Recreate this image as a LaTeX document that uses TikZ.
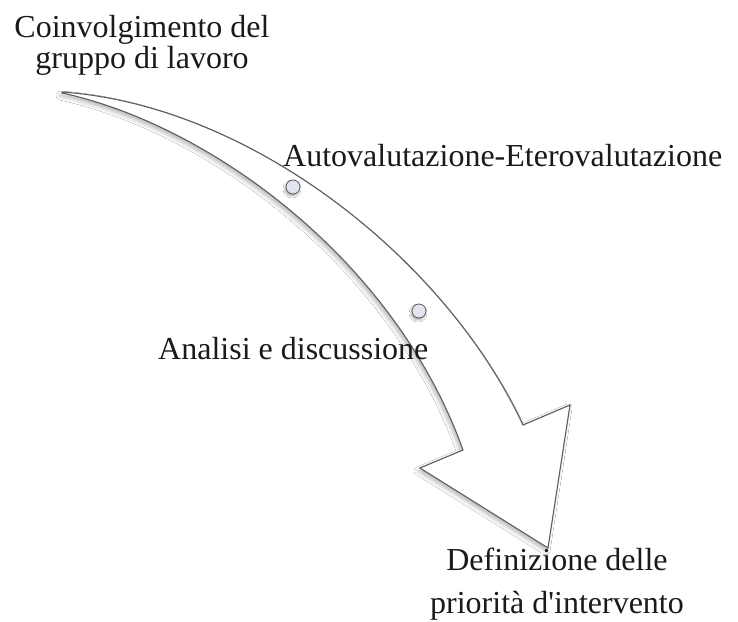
\documentclass[tikz,border=0pt]{standalone}
\usepackage{fontspec}
\setmainfont{Liberation Serif}
\usetikzlibrary{shadows.blur}
\definecolor{edgegray}{HTML}{5E5E5E}
\definecolor{circfill}{HTML}{E2E4F0}
\definecolor{txt}{HTML}{1A1A1A}
\tikzset{
  arrowbody/.style={draw=edgegray, line width=1.1pt, fill=white, line join=miter,
    blur shadow={shadow xshift=-2pt, shadow yshift=-3pt, shadow blur radius=4pt, shadow opacity=28}},
  dot/.style={circle, draw=edgegray, line width=0.8pt, fill=circfill, minimum size=14pt, inner sep=0pt,
    blur shadow={shadow xshift=-1pt, shadow yshift=-2pt, shadow blur radius=2pt, shadow opacity=35}},
  lbl/.style={inner sep=0pt, text=txt, font=\fontsize{32}{28}\selectfont},
}
\begin{document}
\begin{tikzpicture}[x=1pt, y=-1pt]
\useasboundingbox (0,0) rectangle (738,621);
\fill[white] (0,0) rectangle (738,621);
\path[arrowbody] (62,92) .. controls (250,105) and (445,258) .. (523,425)
  -- (570,405) -- (548,548) -- (420,468) -- (463,450)
  .. controls (395,260) and (210,125) .. (62,93) -- cycle;
\node[dot] (d1) at (293,187) {};
\node[dot] (d2) at (419,311) {};
\node[lbl, anchor=base, align=center] (t1) at (142,68) {Coinvolgimento del\\gruppo di lavoro};
\node[lbl, anchor=base west] (t2) at (283,166) {Autovalutazione-Eterovalutazione};
\node[lbl, anchor=base west] (t3) at (158,359) {Analisi e discussione};
\node[lbl, anchor=base, align=center, font=\fontsize{32}{43}\selectfont] (t4) at (557,613) {Definizione delle\\priorità d\textquotesingle intervento};
\end{tikzpicture}
\end{document}
